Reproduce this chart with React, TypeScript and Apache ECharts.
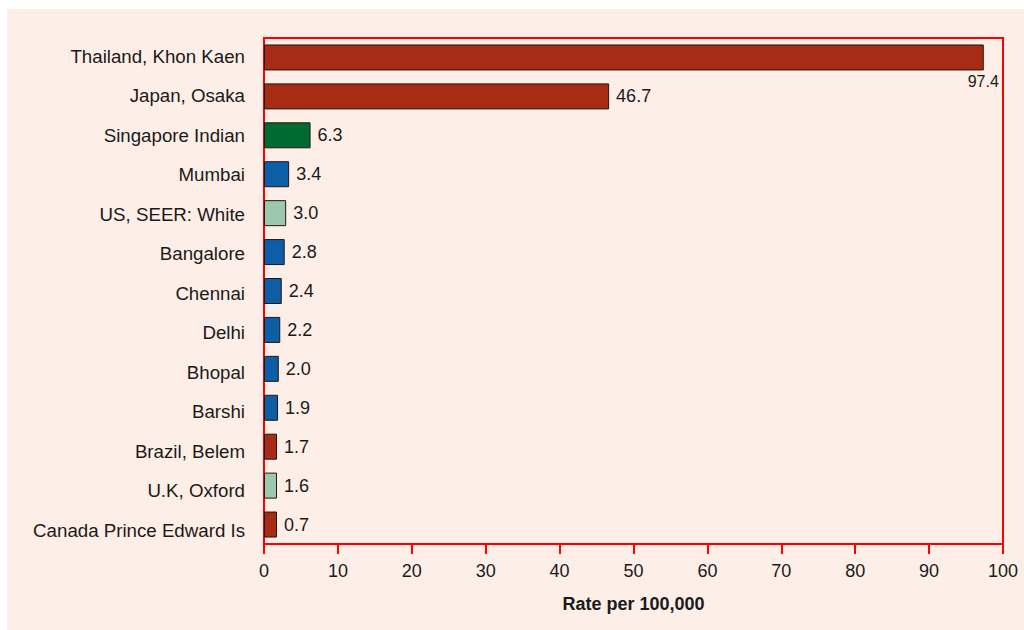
import React, { useEffect, useRef } from "react";
import * as echarts from "echarts";

const categories = [
  "Thailand, Khon Kaen",
  "Japan, Osaka",
  "Singapore Indian",
  "Mumbai",
  "US, SEER: White",
  "Bangalore",
  "Chennai",
  "Delhi",
  "Bhopal",
  "Barshi",
  "Brazil, Belem",
  "U.K, Oxford",
  "Canada Prince Edward Is",
];
const values = [97.4, 46.7, 6.3, 3.4, 3.0, 2.8, 2.4, 2.2, 2.0, 1.9, 1.7, 1.6, 0.7];
const groups = [
  "other", "other", "singapore", "india", "western", "india", "india",
  "india", "india", "india", "other", "western", "other",
];
const groupColors: Record<string, string> = {
  other: "#a82b13",
  singapore: "#016a31",
  india: "#0d5ea6",
  western: "#9dc7b0",
};
const xTicks = { min: 0, max: 100, interval: 10 };

const FONT = "'Liberation Sans', Arial, Helvetica, sans-serif";
const TEXT = "#1a1a1a";
const RED = "#ff0000";

export default function App() {
  const ref = useRef<HTMLDivElement>(null);
  useEffect(() => {
    if (!ref.current) return;
    const chart = echarts.init(ref.current, undefined, { renderer: "svg" });
    const data = values.map((v, i) => {
      const item: any = {
        value: v,
        itemStyle: { color: groupColors[groups[i]] },
      };
      if (i === 0) {
        item.label = {
          position: "right",
          distance: 0,
          align: "right",
          verticalAlign: "top",
          offset: [15, 16],
          fontSize: 16,
        };
      }
      return item;
    });
    chart.setOption({
      animation: false,
      backgroundColor: "#fdeee7",
      textStyle: { fontFamily: FONT },
      grid: [
        {
          left: 257,
          right: 21,
          top: 29,
          bottom: 86,
          show: true,
          borderColor: RED,
          borderWidth: 2,
          backgroundColor: "transparent",
        },
        {
          left: 257,
          right: 21,
          top: 27.4,
          bottom: 79.8,
          show: false,
        },
      ],
      xAxis: [
        {
          type: "value",
          gridIndex: 0,
          min: xTicks.min,
          max: xTicks.max,
          interval: xTicks.interval,
          splitLine: { show: false },
          axisLine: { show: true, lineStyle: { color: RED, width: 2 } },
          axisTick: { show: true, length: 10, lineStyle: { color: RED, width: 2 } },
          axisLabel: { color: TEXT, fontSize: 18, fontFamily: FONT, margin: 18 },
          name: "Rate per 100,000",
          nameLocation: "middle",
          nameGap: 51,
          nameTextStyle: { color: TEXT, fontSize: 18, fontWeight: "bold", fontFamily: FONT },
        },
        {
          type: "value",
          gridIndex: 1,
          show: false,
          min: xTicks.min,
          max: xTicks.max,
        },
      ],
      yAxis: [
        {
          type: "category",
          gridIndex: 0,
          data: categories,
          inverse: true,
          axisLine: { show: true, lineStyle: { color: RED, width: 2 } },
          axisTick: { show: false },
          axisLabel: { show: false },
        },
        {
          type: "category",
          gridIndex: 1,
          data: categories,
          inverse: true,
          axisLine: { show: false },
          axisTick: { show: false },
          splitLine: { show: false },
          axisLabel: { color: TEXT, fontSize: 18.7, fontFamily: FONT, margin: 19 },
        },
      ],
      series: [
        {
          type: "bar",
          xAxisIndex: 0,
          yAxisIndex: 0,
          data,
          barWidth: 26,
          barMinHeight: 13,
          itemStyle: { borderColor: "#24170f", borderWidth: 1 },
          label: {
            show: true,
            position: "right",
            distance: 7,
            color: TEXT,
            fontSize: 18,
            fontFamily: FONT,
            formatter: (p: any) => Number(p.value).toFixed(1),
          },
        },
      ],
    });
    return () => chart.dispose();
  }, []);
  return (
    <div
      ref={ref}
      style={{ position: "fixed", left: 7, top: 9, width: 1017, height: 621 }}
    />
  );
}
